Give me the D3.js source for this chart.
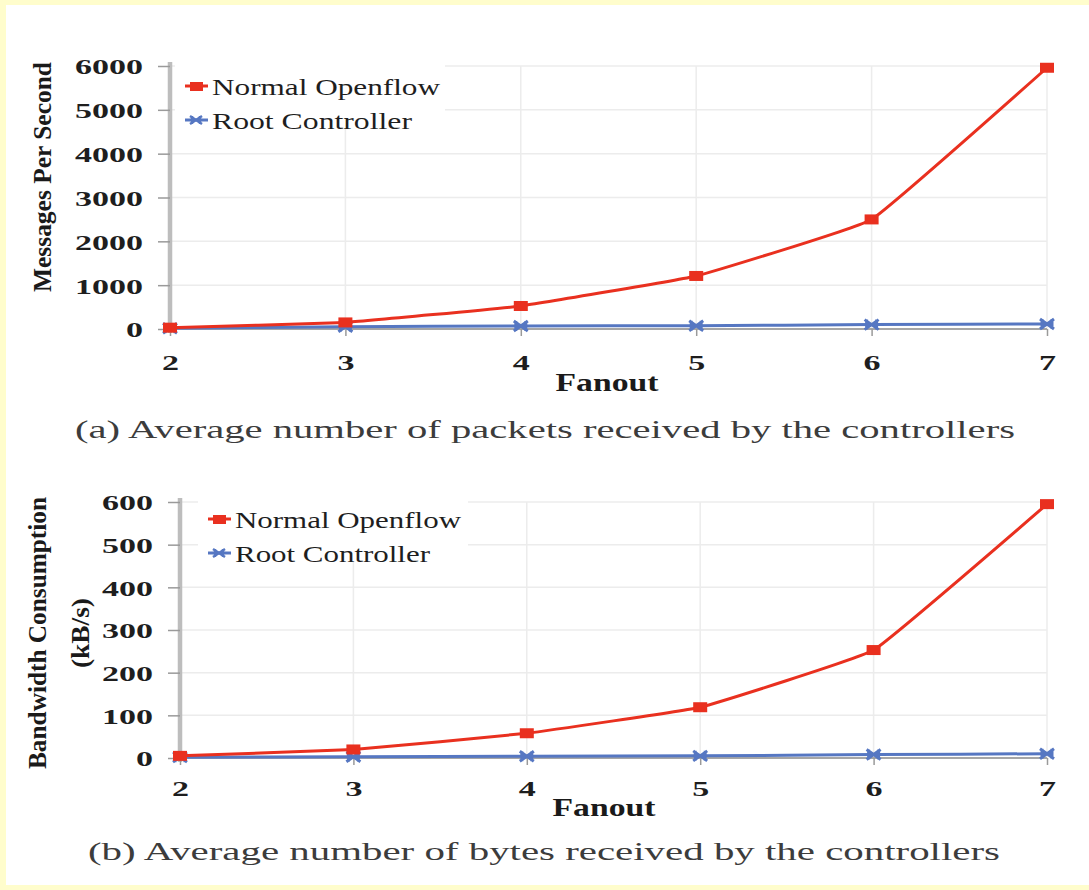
<!DOCTYPE html>
<html>
<head>
    <title></title>
    <meta charset="utf-8" />
    <script src="https://cdn.jsdelivr.net/npm/d3@7"></script>
    <style>
        body { margin: 0; }
        .tick text { font-family: "Liberation Serif", serif; font-weight: bold; font-size: 22px; fill: #1e1e1e; }
        .grid { stroke: #ececec; stroke-width: 1.5; }
        .legend text { font-family: "Liberation Serif", serif; font-size: 23px; fill: #1e1e1e; }
        .title { font-family: "Liberation Serif", serif; font-weight: bold; font-size: 26px; fill: #1a1a1a; }
        .caption { font-family: "Liberation Serif", serif; font-size: 25px; fill: #3c3c3c; }
    </style>
</head>
<body>
    <script>
        // data
        var fanout = [2, 3, 4, 5, 6, 7];
        var seriesNames = ['Normal Openflow', 'Root Controller'];
        var msgNormal = [30, 150, 525, 1210, 2500, 5960];
        var msgRoot = [15, 50, 70, 75, 100, 115];
        var bwNormal = [5, 20, 58, 119, 253, 595];
        var bwRoot = [2, 3, 4, 5, 8, 10];
        var msgTicks = [0, 1000, 2000, 3000, 4000, 5000, 6000];
        var bwTicks = [0, 100, 200, 300, 400, 500, 600];

        var red = '#e9301f', blue = '#5677c2';

        var svg = d3.select('body').append('svg').attr('width', 1089).attr('height', 890);
        svg.append('rect').attr('width', 1089).attr('height', 890).attr('fill', '#fffdcc');
        svg.append('rect').attr('x', 6).attr('y', 5).attr('width', 1083).attr('height', 880).attr('fill', '#fff');

        function panel(o) {
            var x = d3.scaleLinear().domain([2, 7]).range([o.left, 1047]);
            var y = d3.scaleLinear().domain([0, o.ticks[o.ticks.length - 1]]).range([o.bottom, o.top]);
            var g = svg.append('g');

            // grid
            g.selectAll('.hg').data(o.ticks.slice(1)).enter().append('line').attr('class', 'grid')
                .attr('x1', o.left).attr('x2', x(7)).attr('y1', function (d) { return y(d); }).attr('y2', function (d) { return y(d); });
            g.selectAll('.vg').data(fanout.slice(1)).enter().append('line').attr('class', 'grid')
                .attr('x1', function (d) { return x(d); }).attr('x2', function (d) { return x(d); })
                .attr('y1', o.top).attr('y2', o.bottom);

            // legend box hides grid behind it
            g.append('rect').attr('x', o.legX - 10).attr('y', o.top - 8).attr('width', 270).attr('height', o.legY + 50 - o.top)
                .attr('fill', '#fff');

            // axes
            var ya = g.append('g').attr('transform', 'translate(' + o.left + ',0)')
                .call(d3.axisLeft(y).tickValues(o.ticks).tickSize(12).tickPadding(15).tickFormat(d3.format('d')));
            ya.select('.domain').attr('stroke', '#bdbdbd').attr('stroke-width', 4.5).attr('d', 'M0,' + (o.top - 4) + 'V' + (o.bottom + 4));
            ya.selectAll('.tick line').attr('stroke', '#9a9a9a').attr('stroke-width', 1.5);
            ya.selectAll('.tick text').attr('dy', '0.36em')
                .attr('textLength', function (d) { return String(d).length * 17; }).attr('lengthAdjust', 'spacingAndGlyphs');

            var xa = g.append('g').attr('transform', 'translate(0,' + o.bottom + ')')
                .call(d3.axisBottom(x).tickValues(fanout).tickSize(7).tickPadding(o.xPad).tickFormat(d3.format('d')));
            xa.select('.domain').attr('stroke', '#a6a6a6').attr('stroke-width', 2).attr('d', 'M' + o.left + ',0H' + x(7));
            xa.selectAll('.tick line').attr('stroke', '#9a9a9a').attr('stroke-width', 1.5);
            xa.selectAll('.tick text').attr('textLength', 17).attr('lengthAdjust', 'spacingAndGlyphs');

            var line = d3.line().x(function (d, i) { return x(fanout[i]); }).y(function (d) { return y(d); })
                .curve(d3.curveCardinal.tension(0.75));

            // root controller
            g.append('path').datum(o.root).attr('d', line).attr('fill', 'none').attr('stroke', blue).attr('stroke-width', 3);
            g.selectAll('.rm').data(o.root).enter().append('path')
                .attr('transform', function (d, i) { return 'translate(' + x(fanout[i]) + ',' + y(d) + ')'; })
                .attr('d', 'M-7,-5L7,5M-7,5L7,-5M-5,0H5M-5,-5V5M5,-5V5').attr('stroke', blue).attr('stroke-width', 3);

            // normal openflow
            g.append('path').datum(o.normal).attr('d', line).attr('fill', 'none').attr('stroke', red).attr('stroke-width', 3);
            g.selectAll('.nm').data(o.normal).enter().append('rect')
                .attr('x', function (d, i) { return x(fanout[i]) - 7; }).attr('y', function (d) { return y(d) - 5; })
                .attr('width', 14).attr('height', 10).attr('fill', red);

            // legend
            var leg = g.append('g').attr('class', 'legend');
            [red, blue].forEach(function (c, i) {
                var ly = o.legY + i * 34;
                leg.append('line').attr('x1', o.legX).attr('x2', o.legX + 23).attr('y1', ly).attr('y2', ly)
                    .attr('stroke', c).attr('stroke-width', 3);
                if (i === 0) {
                    leg.append('rect').attr('x', o.legX + 5).attr('y', ly - 4).attr('width', 13).attr('height', 9).attr('fill', c);
                } else {
                    leg.append('path').attr('transform', 'translate(' + (o.legX + 11) + ',' + ly + ')')
                        .attr('d', 'M-6,-4L6,4M-6,4L6,-4M-4,-4V4M4,-4V4').attr('stroke', c).attr('stroke-width', 2.5);
                }
                leg.append('text').attr('x', o.legX + 27).attr('y', ly + 9).text(seriesNames[i])
                    .attr('textLength', o.legW[i]).attr('lengthAdjust', 'spacingAndGlyphs');
            });

            // titles
            g.append('text').attr('class', 'title').attr('x', o.fanX).attr('y', o.fanY).attr('text-anchor', 'middle')
                .attr('textLength', 103).attr('lengthAdjust', 'spacingAndGlyphs').text('Fanout');
            o.yTitle.forEach(function (t) {
                g.append('text').attr('class', 'title').attr('text-anchor', 'middle').attr('dy', '0.35em')
                    .attr('transform', 'translate(' + t.x + ',' + t.y + ') rotate(-90)')
                    .attr('textLength', t.len).attr('lengthAdjust', 'spacingAndGlyphs').text(t.text);
            });
            g.append('text').attr('class', 'caption').attr('x', o.capX).attr('y', o.capY)
                .attr('textLength', o.capLen).attr('lengthAdjust', 'spacingAndGlyphs').text(o.caption);
        }

        panel({
            left: 170, top: 66, bottom: 329, ticks: msgTicks, normal: msgNormal, root: msgRoot, xPad: 18,
            legX: 185, legY: 86, legW: [228, 200],
            fanX: 607, fanY: 391,
            yTitle: [{ text: 'Messages Per Second', x: 42, y: 177, len: 230 }],
            caption: '(a) Average number of packets received by the controllers', capX: 75, capY: 438, capLen: 940
        });

        panel({
            left: 180, top: 502, bottom: 758, ticks: bwTicks, normal: bwNormal, root: bwRoot, xPad: 15,
            legX: 208, legY: 519, legW: [226, 195],
            fanX: 604, fanY: 816,
            yTitle: [{ text: 'Bandwidth Consumption', x: 37, y: 633, len: 272 }, { text: '(kB/s)', x: 80, y: 633, len: 70 }],
            caption: '(b) Average number of bytes received by the controllers', capX: 88, capY: 860, capLen: 912
        });
    </script>
</body>
</html>
